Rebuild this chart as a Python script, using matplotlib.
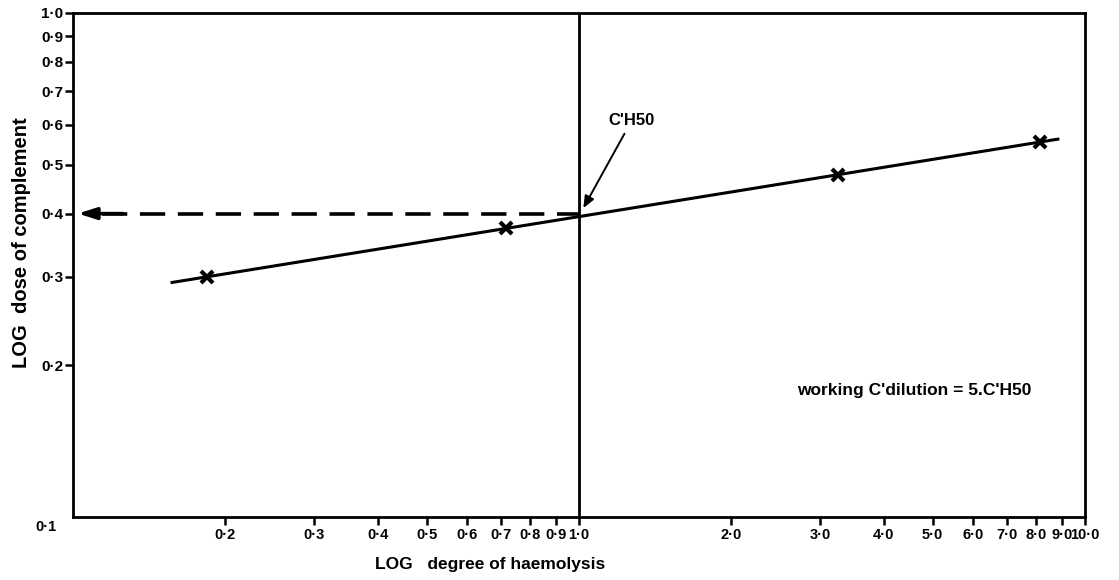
import matplotlib
matplotlib.use("Agg")
import matplotlib.pyplot as plt
from matplotlib.ticker import FixedLocator, NullLocator

plt.rcParams['font.family'] = ['Liberation Sans', 'DejaVu Sans']
plt.rcParams['font.weight'] = 'bold'

haem_pts = [0.184, 0.717, 3.25, 8.15]
dose_pts = [0.300, 0.374, 0.476, 0.554]

# fitted line end points
line_x = [0.157, 8.84]
line_y = [0.292, 0.562]

# C'H50 read-off
ch50_x = 1.0
ch50_y = 0.4

xticks = [0.2, 0.3, 0.4, 0.5, 0.6, 0.7, 0.8, 0.9, 1.0, 2.0, 3.0, 4.0, 5.0, 6.0, 7.0, 8.0, 9.0, 10.0]
xlabels = ['0·2', '0·3', '0·4', '0·5', '0·6', '0·7', '0·8', '0·9', '1·0',
           '2·0', '3·0', '4·0', '5·0', '6·0', '7·0', '8·0', '9·0', '10·0']
yticks = [0.2, 0.3, 0.4, 0.5, 0.6, 0.7, 0.8, 0.9, 1.0]
ylabels = ['0·2', '0·3', '0·4', '0·5', '0·6', '0·7', '0·8', '0·9', '1·0']

fig = plt.figure(figsize=(11.19, 5.8), dpi=100)
ax = fig.add_axes([0.0652, 0.1086, 0.9044, 0.8690])
ax.set_xscale('log')
ax.set_yscale('log')
ax.set_xlim(0.1, 10.0)
ax.set_ylim(0.1, 1.0)

for s in ax.spines.values():
    s.set_linewidth(2.0)

ax.xaxis.set_major_locator(FixedLocator(xticks))
ax.xaxis.set_minor_locator(NullLocator())
ax.yaxis.set_major_locator(FixedLocator(yticks))
ax.yaxis.set_minor_locator(NullLocator())
ax.set_xticklabels(xlabels)
ax.set_yticklabels(ylabels)
ax.tick_params(axis='x', direction='out', length=6, width=1.8, labelsize=10.5, pad=2)
ax.tick_params(axis='y', direction='out', length=6, width=1.8, labelsize=11, pad=1)

# corner label shared by both axes
ax.text(-0.027, -0.02, '0·1', transform=ax.transAxes, ha='center', va='center', fontsize=10.5)

# vertical line at 1.0
ax.axvline(ch50_x, color='black', lw=2.0)

# fitted line and points
ax.plot(line_x, line_y, color='black', lw=2.2)
ax.plot(haem_pts, dose_pts, ls='none', marker='x', ms=8, mew=3, color='black')

# dashed read-off with arrow to the y axis
ax.plot([0.114, ch50_x], [ch50_y, ch50_y], color='black', lw=2.6, dashes=(7, 3.5))
ax.annotate('', xy=(0.101, ch50_y), xytext=(0.127, ch50_y),
            arrowprops=dict(arrowstyle='-|>,head_length=1.1,head_width=0.35', color='black', lw=2.5))

# C'H50 label
ax.annotate("C'H50", xy=(1.02, 0.41), xytext=(1.27, 0.59),
            fontsize=12, ha='center', va='bottom',
            arrowprops=dict(arrowstyle='-|>,head_length=0.6,head_width=0.25', color='black', lw=1.4,
                            shrinkA=2, shrinkB=0))

ax.text(4.6, 0.178, "working C'dilution = 5.C'H50", fontsize=12.5, ha='center', va='center')

fig.text(22 / 1119, 1 - 243 / 580, 'LOG  dose of complement', rotation=90,
         ha='center', va='center', fontsize=14.5)
fig.text(490 / 1119, 1 - 565 / 580, 'LOG   degree of haemolysis',
         ha='center', va='center', fontsize=12.5)

fig.savefig('out.png', dpi=100)
